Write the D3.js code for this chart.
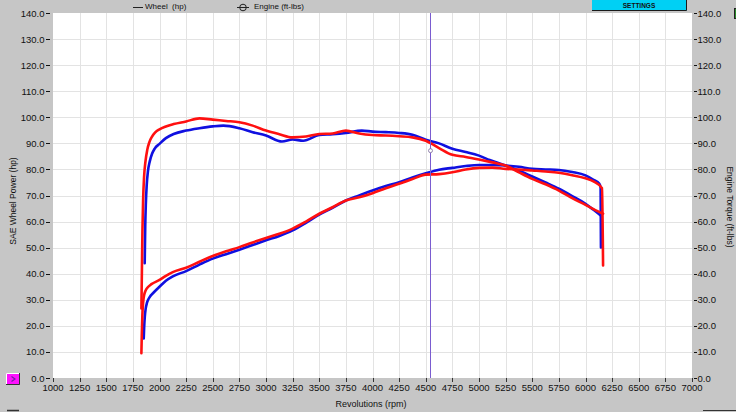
<!DOCTYPE html>
<html><head><meta charset="utf-8">
<script src="https://cdn.jsdelivr.net/npm/d3@7"></script>
<style>html,body{margin:0;padding:0;background:#c6c6c6;overflow:hidden}svg{display:block}</style>
</head><body><svg id="c" width="736" height="412"></svg>
<script>
// ---- data ----
const xTicks = d3.range(1000, 7001, 250);
const yTicks = d3.range(0, 141, 10);
const blueTorqueRpm = [1861,1866,1872,1880,1892,1908,1930,1955,2000,2060,2133,2250,2375,2500,2600,2750,2875,3000,3150,3250,3350,3500,3625,3750,3900,4000,4125,4250,4375,4500,4625,4750,4875,5000,5100,5250,5375,5500,5625,5750,5875,6000,6075,6140];
const blueTorque    = [44,58,67,74,79.5,83,86,88,89.8,92,93.6,94.9,95.8,96.5,96.8,95.8,94.3,93.0,90.7,91.5,91.0,93.2,93.5,94.0,94.9,94.5,94.3,94.0,93.3,91.4,90.0,87.9,86.7,85.3,83.6,81.5,79.5,77.3,75.0,72.6,69.8,66.8,64.5,62.4];
const redTorqueRpm  = [1830,1835,1840,1846,1855,1868,1885,1905,1930,1960,2000,2060,2133,2250,2375,2500,2625,2750,2875,3000,3125,3250,3375,3500,3625,3750,3875,4000,4125,4250,4375,4500,4625,4750,4875,5000,5125,5250,5375,5500,5625,5750,5875,6000,6075,6165];
const redTorque     = [26.7,42,57,68,77,83,87.5,90.5,92.6,94.2,95.4,96.5,97.4,98.4,99.6,99.1,98.6,98.1,96.8,94.9,93.5,92.3,92.6,93.6,93.8,94.9,93.8,93.2,93.0,92.7,92.3,91.0,88.2,85.6,84.8,83.8,82.7,81.5,78.9,76.4,74.3,71.9,69.0,66.4,64.8,63.0];
const bluePowerRpm  = [1852,1856,1862,1870,1882,1897,1915,1945,2000,2060,2125,2250,2375,2500,2625,2750,2875,3000,3125,3250,3375,3500,3625,3750,3875,4000,4125,4250,4375,4500,4625,4750,4875,5000,5125,5250,5375,5500,5625,5750,5875,6000,6075,6130,6142,6145];
const bluePower     = [15.2,19.5,23.5,26.5,28.8,30.3,31.5,32.8,35.0,37.3,39.0,41.0,43.5,45.8,47.5,49.2,51.0,52.8,54.5,56.6,59.5,62.7,65.3,68.1,70.0,71.9,73.6,75.1,76.9,78.5,79.9,80.6,81.3,81.7,81.7,81.5,81.0,80.2,80.0,79.8,79.0,77.7,76.0,74.5,73.0,50.1];
const redPowerRpm   = [1830,1834,1839,1846,1856,1870,1890,1924,2000,2060,2125,2250,2375,2500,2625,2750,2875,3000,3125,3250,3375,3500,3625,3750,3875,4000,4125,4250,4375,4500,4625,4750,4875,5000,5125,5250,5375,5500,5625,5750,5875,6000,6075,6155,6165];
const redPower      = [9.5,17,24,28.8,31.8,33.6,34.8,36.0,37.6,39.2,40.6,42.3,44.6,46.8,48.6,50.2,52.0,53.7,55.3,57.3,60,63.0,65.5,68.1,69.3,70.9,72.8,74.5,76.3,78.0,78.2,78.9,80.0,80.6,80.7,80.2,80.0,79.6,79.2,78.7,77.8,76.6,75.4,72.8,43.2];
const cursorRpm = 4540;
const cursorMarker = 87.2;
const legendLabels = ["Wheel\u00a0\u00a0(hp)", "Engine (ft-lbs)"];

// ---- drawing ----
const svg = d3.select("#c");
const font = "'Liberation Sans', Arial, sans-serif";
const x = d3.scaleLinear().domain([1000, 7000]).range([53, 692]);
const y = d3.scaleLinear().domain([0, 140]).range([378, 13]);
const fmt = d3.format(".1f");

svg.append("rect").attr("width", 736).attr("height", 412).attr("fill", "#c6c6c6");
svg.append("rect").attr("x", x(1000)).attr("y", y(140)).attr("width", x(7000) - x(1000)).attr("height", y(0) - y(140)).attr("fill", "#fff");

// grid
const g = svg.append("g").attr("stroke", "#e3e3e3").attr("stroke-width", 1);
g.selectAll(".vx").data(xTicks.slice(1, -1)).join("line")
  .attr("x1", d => Math.round(x(d)) + 0.5).attr("x2", d => Math.round(x(d)) + 0.5)
  .attr("y1", y(140)).attr("y2", y(0));
g.selectAll(".hy").data(yTicks.slice(1, -1)).join("line")
  .attr("y1", d => Math.round(y(d)) + 0.5).attr("y2", d => Math.round(y(d)) + 0.5)
  .attr("x1", x(1000)).attr("x2", x(7000));

// left & right axes
const la = svg.append("g").attr("font-family", font).attr("font-size", 9.5).attr("fill", "#111");
yTicks.forEach(v => {
  la.append("text").attr("x", 44.5).attr("y", y(v) + 3.5).attr("text-anchor", "end").text(fmt(v));
  la.append("line").attr("x1", 46).attr("x2", 50).attr("y1", Math.round(y(v)) + 0.5).attr("y2", Math.round(y(v)) + 0.5).attr("stroke", "#111");
  la.append("text").attr("x", 697.5).attr("y", y(v) + 3.5).attr("text-anchor", "start").text(fmt(v));
  la.append("line").attr("x1", 694).attr("x2", 697).attr("y1", Math.round(y(v)) + 0.5).attr("y2", Math.round(y(v)) + 0.5).attr("stroke", "#111");
});
// bottom axis
const ba = svg.append("g").attr("font-family", font).attr("font-size", 9.5).attr("fill", "#111");
xTicks.forEach(v => {
  ba.append("line").attr("x1", Math.round(x(v)) + 0.5).attr("x2", Math.round(x(v)) + 0.5).attr("y1", 378).attr("y2", 382).attr("stroke", "#333");
  ba.append("text").attr("x", x(v)).attr("y", 391).attr("text-anchor", "middle").text(v);
});

// titles
svg.append("text").attr("transform", "translate(16,201) rotate(-90)").attr("text-anchor", "middle")
  .attr("font-family", font).attr("font-size", 8.5).attr("fill", "#111").text("SAE Wheel Power (hp)");
svg.append("text").attr("transform", "translate(727,207) rotate(90)").attr("text-anchor", "middle")
  .attr("font-family", font).attr("font-size", 8.5).attr("fill", "#111").text("Engine Torque (ft-lbs)");
svg.append("text").attr("x", 371).attr("y", 407).attr("text-anchor", "middle")
  .attr("font-family", font).attr("font-size", 9).attr("fill", "#111").text("Revolutions (rpm)");

// legend
svg.append("line").attr("x1", 133).attr("x2", 143).attr("y1", 7.5).attr("y2", 7.5).attr("stroke", "#222");
svg.append("text").attr("x", 145).attr("y", 9).attr("font-family", font).attr("font-size", 8).attr("fill", "#111").text(legendLabels[0]);
svg.append("line").attr("x1", 237).attr("x2", 249).attr("y1", 7.5).attr("y2", 7.5).attr("stroke", "#222");
svg.append("circle").attr("cx", 243).attr("cy", 7.5).attr("r", 3.3).attr("fill", "none").attr("stroke", "#222");
svg.append("text").attr("x", 254).attr("y", 9).attr("font-family", font).attr("font-size", 8).attr("fill", "#111").text(legendLabels[1]);

// settings button
svg.append("rect").attr("x", 592).attr("y", -1).attr("width", 95).attr("height", 11.5).attr("fill", "#00d0f4");
svg.append("path").attr("d", "M592,10.5H686.5V-1").attr("fill", "none").attr("stroke", "#1a1a1a").attr("stroke-width", 1);
svg.append("text").attr("x", 639).attr("y", 8).attr("text-anchor", "middle").attr("font-family", font)
  .attr("font-size", 6.5).attr("font-weight", "bold").attr("fill", "#111").text("SETTINGS");
// green box top right
svg.append("rect").attr("x", 734.5).attr("y", 8.5).attr("width", 4).attr("height", 10).attr("fill", "#2a8a2a").attr("stroke", "#222");

// magenta button
svg.append("rect").attr("x", 6).attr("y", 373).attr("width", 14).attr("height", 12).attr("fill", "#ff10ff");
svg.append("path").attr("d", "M6.5,385V373.5H20").attr("fill", "none").attr("stroke", "#fff").attr("stroke-width", 1);
svg.append("path").attr("d", "M6,384.5H19.5V373").attr("fill", "none").attr("stroke", "#333").attr("stroke-width", 1);
svg.append("path").attr("d", "M11.5,376.5L15,379L11.5,381.5").attr("fill", "none").attr("stroke", "#7020a0").attr("stroke-width", 1.2);
// bottom widgets
svg.append("line").attr("x1", 7).attr("x2", 19).attr("y1", 410.5).attr("y2", 410.5).attr("stroke", "#333").attr("stroke-width", 1.5);
svg.append("line").attr("x1", 703).attr("x2", 736).attr("y1", 410.5).attr("y2", 410.5).attr("stroke", "#333").attr("stroke-width", 1);

// curves
svg.append("clipPath").attr("id", "pc").append("rect")
  .attr("x", x(1000)).attr("y", y(140)).attr("width", x(7000) - x(1000)).attr("height", y(0) - y(140));
const line = d3.line().x(d => x(d[0])).y(d => y(d[1])).curve(d3.curveMonotoneX);
const curves = [
  [bluePowerRpm, bluePower, "#1010e0"],
  [blueTorqueRpm, blueTorque, "#1010e0"],
  [redPowerRpm, redPower, "#ff1010"],
  [redTorqueRpm, redTorque, "#ff1010"]
];
const cg = svg.append("g").attr("clip-path", "url(#pc)");
curves.forEach(([r, v, c]) => {
  cg.append("path").datum(r.map((d, i) => [d, v[i]])).attr("d", line)
    .attr("fill", "none").attr("stroke", c).attr("stroke-width", 2.6).attr("stroke-linejoin", "round").attr("stroke-linecap", "round");
});

// cursor
svg.append("line").attr("x1", Math.round(x(cursorRpm)) + 0.5).attr("x2", Math.round(x(cursorRpm)) + 0.5)
  .attr("y1", y(140)).attr("y2", y(0)).attr("stroke", "#7a5cd0").attr("stroke-width", 1);
svg.append("circle").attr("cx", Math.round(x(cursorRpm)) + 0.5).attr("cy", y(cursorMarker)).attr("r", 2)
  .attr("fill", "#fff").attr("stroke", "#7a6a9a").attr("stroke-width", 0.8);
</script></body></html>
